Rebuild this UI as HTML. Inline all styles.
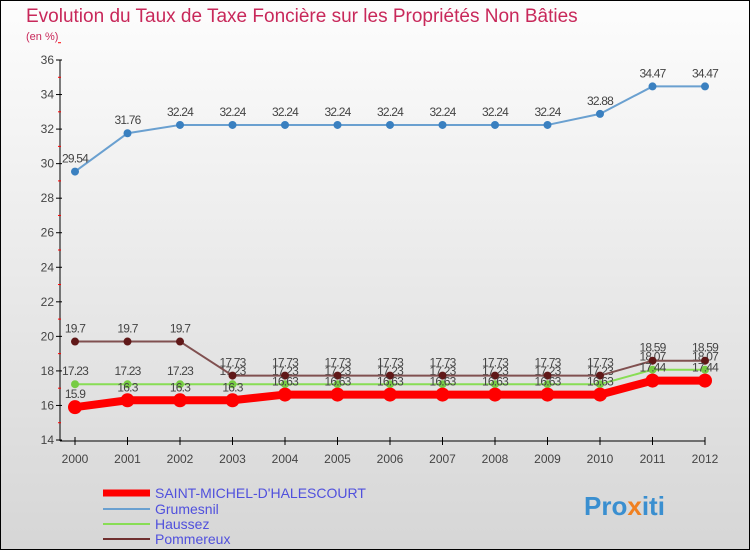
<!DOCTYPE html>
<html><head><meta charset="utf-8"><style>
body{margin:0}
#c{width:750px;height:550px;position:relative;overflow:hidden;font-family:"Liberation Sans",sans-serif;}
</style></head><body>
<div id="c">
<svg id="s" width="750" height="550" xmlns="http://www.w3.org/2000/svg" font-family="Liberation Sans, sans-serif">
<defs><linearGradient id="bg" x1="0" y1="0" x2="0" y2="1"><stop offset="0" stop-color="#fdfdfd"/><stop offset="1" stop-color="#d6d6d6"/></linearGradient></defs>
<rect x="0.5" y="0.5" width="749" height="549" fill="url(#bg)" stroke="#000"/>
<text x="26" y="22" font-size="19" fill="#c8285a">Evolution du Taux de Taxe Foncière sur les Propriétés Non Bâties</text>
<text x="26" y="40" font-size="11" fill="#c8285a">(en %)</text>
<g id="axes"></g><g id="series"></g>
<g>
<line x1="103" y1="493" x2="150" y2="493" stroke="#f00" stroke-width="7"/>
<text x="155" y="498" font-size="14" fill="#5050dd">SAINT-MICHEL-D'HALESCOURT</text>
<line x1="103" y1="509" x2="150" y2="509" stroke="#6aa0d0" stroke-width="2"/>
<text x="155" y="514" font-size="14" fill="#5050dd">Grumesnil</text>
<line x1="103" y1="524" x2="150" y2="524" stroke="#88dd55" stroke-width="2"/>
<text x="155" y="529" font-size="14" fill="#5050dd">Haussez</text>
<line x1="103" y1="539" x2="150" y2="539" stroke="#703030" stroke-width="2"/>
<text x="155" y="544" font-size="14" fill="#5050dd">Pommereux</text>
</g>
<text x="584" y="515" font-size="26" font-weight="bold" fill="#3a8fd0">Pro<tspan fill="#f08020">x</tspan>iti</text>
</svg></div>
<script>
const years=[2000,2001,2002,2003,2004,2005,2006,2007,2008,2009,2010,2011,2012];
const yTicks=[14,16,18,20,22,24,26,28,30,32,34,36];
const saint=[15.9,16.3,16.3,16.3,16.63,16.63,16.63,16.63,16.63,16.63,16.63,17.44,17.44];
const grumesnil=[29.54,31.76,32.24,32.24,32.24,32.24,32.24,32.24,32.24,32.24,32.88,34.47,34.47];
const haussez=[17.23,17.23,17.23,17.23,17.23,17.23,17.23,17.23,17.23,17.23,17.23,18.07,18.07];
const pommereux=[19.7,19.7,19.7,17.73,17.73,17.73,17.73,17.73,17.73,17.73,17.73,18.59,18.59];
const NS="http://www.w3.org/2000/svg";
const X=i=>75+i*52.5, Y=v=>60+(36-v)*(380/22);
function mk(t,a,p){const e=document.createElementNS(NS,t);for(const k in a)e.setAttribute(k,a[k]);p.appendChild(e);return e;}
const ax=document.getElementById('axes');
let l=mk('line',{x1:60,y1:60,x2:60,y2:441,stroke:'#000'},ax);


l=mk('line',{x1:60,y1:441,x2:705,y2:441,stroke:'#000'},ax);


yTicks.forEach(v=>{
 mk('line',{x1:56,y1:Y(v),x2:62,y2:Y(v),stroke:'#000'},ax);
 mk('line',{x1:58,y1:Y(v+1),x2:61,y2:Y(v+1),stroke:'#f00'},ax);
 const t=mk('text',{x:54,y:Y(v)+4,'font-size':12,fill:'#444','text-anchor':'end'},ax);t.textContent=v;
 
 
});
years.forEach((y,i)=>{
 mk('line',{x1:X(i),y1:437,x2:X(i),y2:445,stroke:'#000'},ax);
 const t=mk('text',{x:X(i),y:463,'font-size':12,fill:'#444','text-anchor':'middle'},ax);t.textContent=y;
 
 
});
const sg=document.getElementById('series');
function draw(data,name,col,w,r,dot){
 const g=mk('g',{},sg);
 
 
 mk('polyline',{points:data.map((v,i)=>X(i)+','+Y(v)).join(' '),fill:'none',stroke:col,'stroke-width':w,'stroke-linejoin':'round'},g);
 data.forEach((v,i)=>{
  const c=mk('circle',{cx:X(i),cy:Y(v),r:r,fill:dot},g);
  
  
  const t=mk('text',{x:X(i),y:Y(v)-9,'font-size':12,fill:'#444','text-anchor':'middle','letter-spacing':'-0.8'},g);t.textContent=v;
 });
}
draw(haussez,'haussez','#88dd55',2,4,'#77cc44');
draw(pommereux,'pommereux','#805050',2,4,'#601818');
draw(grumesnil,'grumesnil','#6aa0d0',2,4,'#3a80c0');
draw(saint,'saint-michel','#f00',8,7,'#f00');
</script>
</body></html>
